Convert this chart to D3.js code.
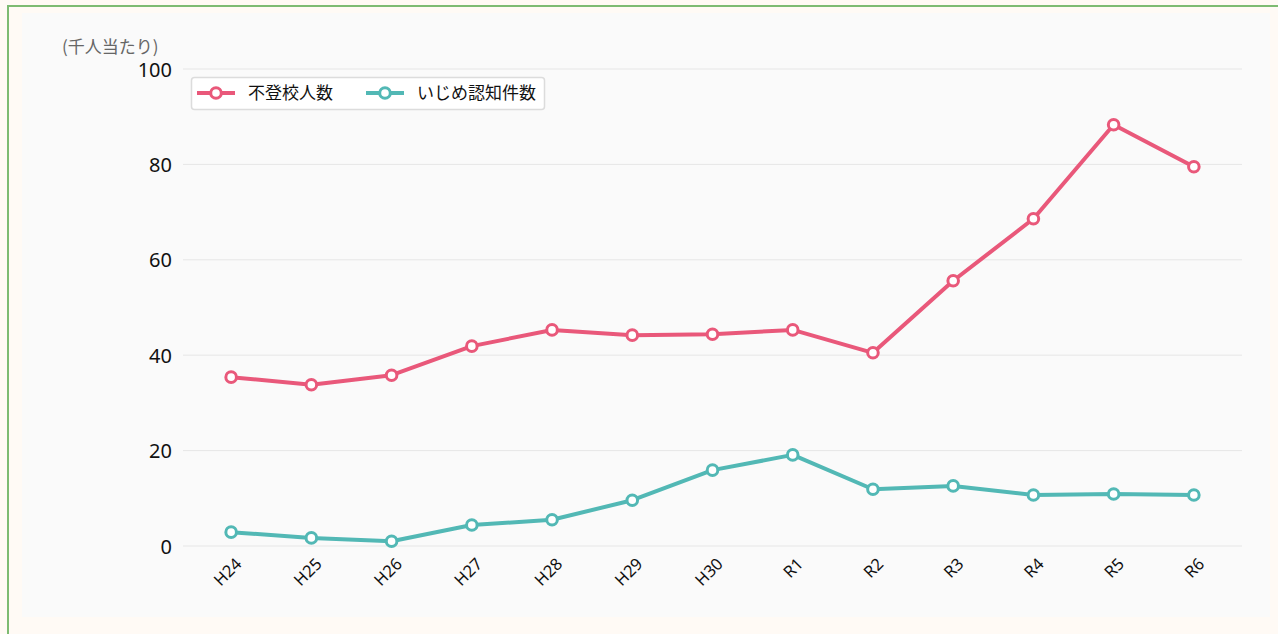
<!DOCTYPE html>
<html>
  <head>
    <meta charset="utf-8">
    <script src="https://d3js.org/d3.v7.min.js"></script>
    <style>
      body { margin: 0; background: #fffaf5; font-family: "Noto Sans CJK JP", "Noto Sans", sans-serif; }
      .frame { position: absolute; left: 7px; top: 5px; width: 1280px; height: 640px;
               border-left: 2px solid #7dbb72; border-top: 2px solid #7dbb72; }
      .tick text { font-family: "Noto Sans", "Noto Sans CJK JP", sans-serif; }
    </style>
  </head>
  <body>
    <div class="frame"></div>
    <svg width="1278" height="634" style="position:absolute;left:0;top:0"></svg>
  </body>
  <script>
    var years = ["H24", "H25", "H26", "H27", "H28", "H29", "H30", "R1", "R2", "R3", "R4", "R5", "R6"];
    var futoko = [35.4, 33.8, 35.8, 41.9, 45.3, 44.2, 44.4, 45.3, 40.5, 55.6, 68.6, 88.3, 79.5];
    var ijime = [2.9, 1.7, 1.0, 4.4, 5.5, 9.6, 15.9, 19.1, 11.9, 12.6, 10.7, 10.9, 10.7];
    var yTicks = [0, 20, 40, 60, 80, 100];
    var seriesNames = ["不登校人数", "いじめ認知件数"];
    var colors = ["#e9587a", "#52b8b5"];

    var svg = d3.select("svg");

    // panel background
    svg.append("rect")
      .attr("x", 22).attr("y", 13)
      .attr("width", 1248).attr("height", 604)
      .attr("fill", "#fafafa");

    var plotLeft = 183, plotRight = 1242, plotTop = 69, plotBottom = 546;

    var x = d3.scalePoint().domain(years).range([plotLeft, plotRight]).padding(0.6);
    var y = d3.scaleLinear().domain([0, 100]).range([plotBottom, plotTop]);

    // grid
    svg.append("g").selectAll("line")
      .data(yTicks)
      .enter().append("line")
      .attr("x1", plotLeft).attr("x2", plotRight)
      .attr("y1", function(d) { return y(d); })
      .attr("y2", function(d) { return y(d); })
      .attr("stroke", "#e6e6e6");

    var yAxis = svg.append("g")
      .attr("transform", "translate(" + plotLeft + ",0)")
      .call(d3.axisLeft(y).tickValues(yTicks).tickSize(0).tickPadding(11));
    yAxis.select(".domain").remove();
    yAxis.selectAll("text").attr("font-size", 20).attr("fill", "#111").attr("dy", "0.35em");

    var xAxis = svg.append("g")
      .attr("transform", "translate(0," + plotBottom + ")")
      .call(d3.axisBottom(x).tickSize(0).tickPadding(0));
    xAxis.select(".domain").remove();
    xAxis.selectAll("text")
      .attr("font-size", 16.5)
      .attr("fill", "#111")
      .attr("text-anchor", "end")
      .attr("dy", null)
      .attr("y", 0)
      .attr("transform", "translate(11,19) rotate(-45)");

    svg.append("text")
      .attr("x", 62).attr("y", 53)
      .attr("font-size", 17)
      .attr("fill", "#666")
      .text("(千人当たり)");

    var data = [futoko, ijime];
    var line = d3.line()
      .x(function(d, i) { return x(years[i]); })
      .y(function(d) { return y(d); });

    data.forEach(function(vals, k) {
      svg.append("path")
        .datum(vals)
        .attr("d", line)
        .attr("fill", "none")
        .attr("stroke", colors[k])
        .attr("stroke-width", 4)
        .attr("stroke-linejoin", "round");
      svg.append("g").selectAll("circle")
        .data(vals)
        .enter().append("circle")
        .attr("cx", function(d, i) { return x(years[i]); })
        .attr("cy", function(d) { return y(d); })
        .attr("r", 5.3)
        .attr("fill", "#fff")
        .attr("stroke", colors[k])
        .attr("stroke-width", 3);
    });

    // legend
    var lg = svg.append("g");
    lg.append("rect")
      .attr("x", 191.5).attr("y", 77.5)
      .attr("width", 353).attr("height", 32)
      .attr("rx", 3)
      .attr("fill", "#fff")
      .attr("stroke", "#dcdcdc")
      .attr("stroke-width", 1.5);
    var offsets = [197, 366];
    seriesNames.forEach(function(name, k) {
      var ox = offsets[k];
      lg.append("line")
        .attr("x1", ox).attr("x2", ox + 38)
        .attr("y1", 93).attr("y2", 93)
        .attr("stroke", colors[k]).attr("stroke-width", 4);
      lg.append("circle")
        .attr("cx", ox + 19).attr("cy", 93).attr("r", 5.3)
        .attr("fill", "#fff").attr("stroke", colors[k]).attr("stroke-width", 3);
      lg.append("text")
        .attr("x", ox + 51).attr("y", 99)
        .attr("font-size", 17)
        .attr("fill", "#111")
        .text(name);
    });
  </script>
</html>
